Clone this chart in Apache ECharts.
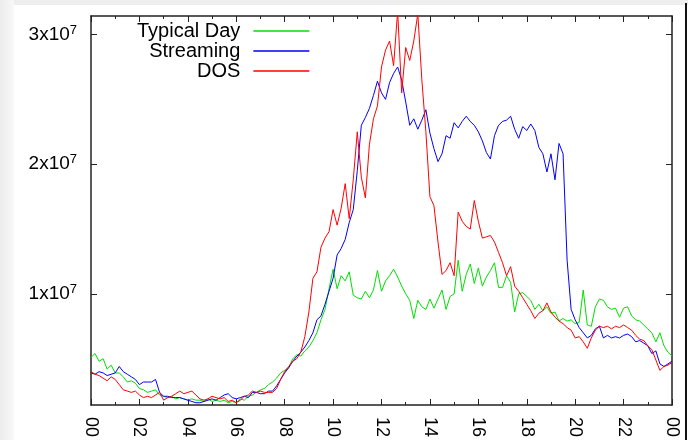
<!DOCTYPE html>
<html><head><meta charset="utf-8">
<script src="https://cdn.jsdelivr.net/npm/echarts@6/dist/echarts.min.js"></script>
<style>html,body{margin:0;padding:0;background:#fff}#c{width:688px;height:440px}</style>
</head><body><div id="c"></div>
<script>
// x tick labels (hours of the day), every 2 h
const xTickLabels = ['00','02','04','06','08','10','12','14','16','18','20','22','00'];
// y ticks (values in millions) and their labels (mantissa x 10^exp)
const yTickValues = [10, 20, 30];
const yTickMantissa = ['1x10', '2x10', '3x10'];
const yTickExponent = '7';
const seriesNames = ['Typical Day', 'Streaming', 'DOS'];

// samples every 10 minutes from 00:00 to 24:00 (values in millions), one row per hour
const typicalDay = [
  5.1, 5.4, 4.8, 5.0, 4.2, 4.5,
  3.9, 3.9, 3.6, 3.2, 3.3, 3.1,
  2.7, 2.6, 2.4, 2.5, 2.6, 2.2,
  2.1, 2.0, 2.1, 1.9, 2.0, 1.9,
  1.8, 1.9, 1.8, 1.8, 1.7, 1.9,
  1.7, 1.8, 1.7, 1.8, 1.6, 1.7,
  1.6, 1.9, 1.8, 2.1, 2.2, 2.4,
  2.6, 2.7, 3.0, 3.2, 3.5, 3.9,
  4.1, 4.3, 5.0, 5.3, 5.2, 5.6,
  5.9, 6.4, 7.0, 8.0, 8.8, 10.4,
  11.9, 10.4, 11.4, 11.0, 11.7, 9.9,
  9.7, 9.6, 10.2, 9.7, 10.3, 11.8,
  10.2, 11.0, 11.4, 11.9, 11.3, 10.6,
  10.0, 9.5, 8.1, 9.5, 9.0, 8.8,
  9.6, 8.9, 9.6, 10.3, 8.8, 9.8,
  10.0, 12.6, 10.2, 11.5, 12.3, 10.8,
  12.0, 10.6, 11.3, 11.8, 12.4, 10.5,
  10.5, 11.4, 10.9, 8.6, 10.0, 10.1,
  9.8, 9.5, 8.8, 9.2, 8.7, 9.0,
  8.5, 8.6, 7.9, 8.1, 7.9, 8.0,
  7.7, 7.8, 10.3, 7.6, 7.5, 9.0,
  9.6, 9.5, 9.0, 8.8, 8.9, 8.2,
  8.9, 9.0, 8.3, 8.0, 7.9, 7.6,
  7.3, 7.0, 6.3, 7.0, 6.0, 5.5,
  5.2
];
const streaming = [
  3.9, 3.8, 4.0, 3.9, 3.7, 3.8,
  3.9, 4.4, 4.0, 3.8, 3.6, 3.4,
  3.0, 3.2, 3.2, 3.2, 3.4, 2.4,
  2.1, 2.1, 2.0, 2.0, 2.0, 1.9,
  1.8, 1.7, 1.6, 1.6, 1.7, 1.8,
  1.9, 1.8, 2.0, 2.2, 2.3, 2.0,
  1.9, 2.0, 2.1, 2.0, 2.4, 2.4,
  2.3, 2.3, 2.5, 2.5, 2.9, 3.4,
  3.9, 4.3, 4.8, 5.2, 5.5, 5.9,
  6.4, 7.0, 8.0, 8.3, 9.2, 10.2,
  11.2, 13.0, 13.5, 14.2, 15.5, 16.5,
  19.5, 23.0, 23.6, 24.3, 25.3, 26.4,
  25.5, 25.0, 26.3, 27.0, 27.5, 26.5,
  24.8, 23.0, 23.5, 22.7, 23.4, 24.2,
  22.4, 21.2, 20.2, 20.8, 22.2, 22.0,
  23.2, 22.8, 23.3, 23.7, 23.3, 23.0,
  22.5, 21.8, 20.9, 20.4, 22.2, 23.0,
  23.3, 23.4, 23.7, 22.7, 22.0, 22.9,
  22.6, 23.1, 22.6, 21.3, 20.8, 19.4,
  20.8, 18.8, 21.6, 20.8, 12.6, 8.8,
  8.0, 7.4, 7.0, 6.6, 6.8, 7.3,
  7.5, 6.6, 6.8, 6.6, 6.7, 6.6,
  6.8, 6.9, 6.7, 6.3, 6.4, 6.2,
  6.0, 5.4, 5.6, 4.6, 4.4, 4.6,
  4.8
];
const dos = [
  4.0, 3.8, 3.7, 3.5, 3.3, 3.6,
  3.4, 3.0, 2.6, 2.5, 2.4, 2.5,
  2.2, 2.0, 2.1, 2.0, 2.2, 2.4,
  1.8, 2.0, 2.1, 2.3, 2.5, 2.3,
  2.4, 2.5, 2.2, 1.9, 1.8, 1.9,
  2.1, 2.0, 1.9, 2.0, 1.7, 1.8,
  1.6, 1.8, 2.1, 2.2, 2.5, 2.4,
  2.5, 2.4, 2.4, 2.4, 2.7, 3.4,
  4.0, 4.4, 4.8, 5.0, 5.5, 6.7,
  8.6, 11.2, 11.7, 13.6, 14.3, 14.8,
  16.5, 15.3, 16.6, 18.5, 15.8, 18.8,
  22.5, 19.0, 17.4, 21.5, 23.5, 24.5,
  27.5, 28.8, 29.5, 27.6, 31.8, 25.5,
  29.0, 28.0, 29.5, 31.6, 26.5, 22.5,
  17.5, 16.8, 14.0, 11.5, 11.8, 12.4,
  11.4, 16.3, 15.6, 15.2, 15.0, 17.2,
  15.6, 14.3, 14.4, 14.5, 14.0, 13.2,
  12.4, 11.4, 12.1, 10.6, 10.2, 9.7,
  9.2, 8.7, 8.1, 8.5, 8.7, 9.3,
  8.6, 8.2, 7.9, 7.7, 7.4, 7.2,
  6.6, 6.7, 6.3, 5.8, 6.6, 7.2,
  7.5, 7.4, 7.5, 7.3, 7.5, 7.4,
  7.6, 7.4, 7.2, 6.8, 6.5, 6.4,
  6.0, 5.7, 4.9, 4.1, 4.4, 4.5,
  4.7
];

const hours = dos.map((_, i) => i / 6);
const pairs = arr => arr.map((v, i) => [hours[i], v]);

const FONT = '"Liberation Sans", Arial, Helvetica, sans-serif';
const AXIS_COLOR = '#222';
const COLORS = ['#00e000', '#0000ff', '#ff0000'];

const chart = echarts.init(document.getElementById('c'), null, { renderer: 'canvas' });

const xCommon = {
  type: 'value', min: 0, max: 24, interval: 2,
  axisLine: { show: true, onZero: false, lineStyle: { color: AXIS_COLOR, width: 1.5 } },
  axisTick: { show: true, inside: true, length: 6, lineStyle: { color: AXIS_COLOR, width: 1 } },
  minorTick: { show: true, splitNumber: 2, length: 3, lineStyle: { color: AXIS_COLOR, width: 1 } },
  splitLine: { show: false }, minorSplitLine: { show: false }
};
const yCommon = {
  type: 'value', min: 1.43, max: 31.43,
  axisLine: { show: true, onZero: false, lineStyle: { color: AXIS_COLOR, width: 1.5 } },
  axisTick: { show: true, inside: true, length: 6, customValues: yTickValues, lineStyle: { color: AXIS_COLOR, width: 1 } },
  splitLine: { show: false }
};

chart.setOption({
  animation: false,
  backgroundColor: '#ffffff',
  graphic: [
    { type: 'rect', z: -10, shape: { x: 0, y: 0, width: 688, height: 5 }, style: { fill: '#eeeeee' } },
    { type: 'rect', z: -10, shape: { x: 0, y: 0, width: 14, height: 440 },
      style: { fill: new echarts.graphic.LinearGradient(0, 0, 1, 0, [{ offset: 0, color: '#ececec' }, { offset: 1, color: '#f8f8f8' }]) } },
    { type: 'rect', z: -10, shape: { x: 685, y: 3, width: 2, height: 437 }, style: { fill: '#111' } }
  ],
  grid: { left: 91, top: 16, width: 581, height: 390, containLabel: false },
  legend: {
    orient: 'vertical', left: 132, top: 16, align: 'right',
    icon: 'rect', itemWidth: 56, itemHeight: 1.5, itemGap: 0,
    textStyle: { fontSize: 20, fontFamily: FONT, color: '#000', padding: [0, 8, 0, 0] },
    data: seriesNames
  },
  xAxis: [
    Object.assign({}, xCommon, {
      position: 'bottom',
      axisLabel: {
        show: true, rotate: -90, margin: 12, fontSize: 18, fontFamily: FONT, color: '#000',
        formatter: v => xTickLabels[Math.round(v / 2)]
      }
    }),
    Object.assign({}, xCommon, { position: 'top', axisLabel: { show: false } })
  ],
  yAxis: [
    Object.assign({}, yCommon, {
      position: 'left',
      axisLabel: {
        show: true, margin: 14, customValues: yTickValues, color: '#000', fontFamily: FONT,
        formatter: v => '{m|' + yTickMantissa[yTickValues.indexOf(Math.round(v))] + '}{s|' + yTickExponent + '}',
        rich: {
          m: { fontSize: 19, fontFamily: FONT, color: '#000', lineHeight: 22 },
          s: { fontSize: 13, fontFamily: FONT, color: '#000', verticalAlign: 'top', lineHeight: 13 }
        }
      }
    }),
    Object.assign({}, yCommon, { position: 'right', axisLabel: { show: false } })
  ],
  series: seriesNames.map((name, k) => ({
    name, type: 'line', data: pairs([typicalDay, streaming, dos][k]), showSymbol: false, symbol: 'none',
    color: COLORS[k], itemStyle: { color: COLORS[k] }, lineStyle: { width: 1, color: COLORS[k] },
    xAxisIndex: 0, yAxisIndex: 0
  }))
});
</script>
</body></html>
